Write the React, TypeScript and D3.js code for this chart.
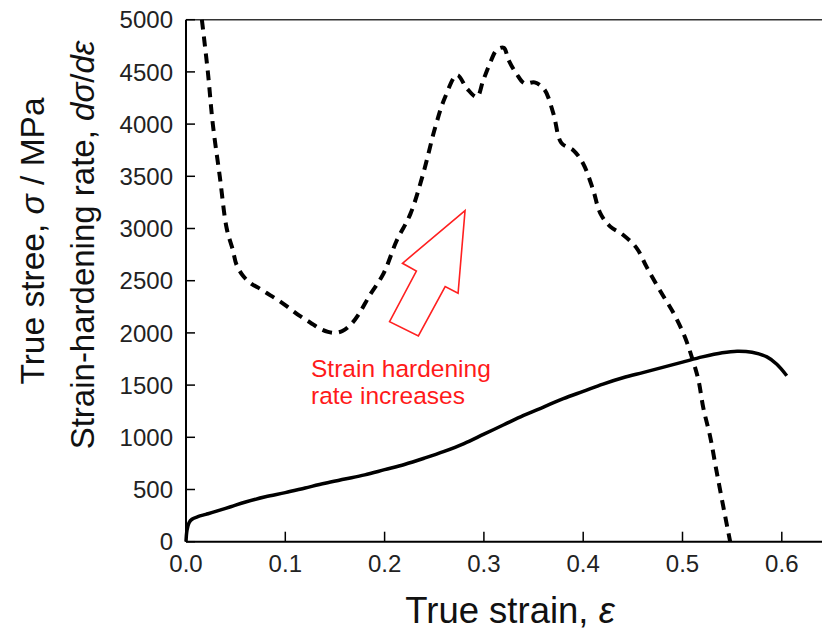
import React from "react";
import * as d3 from "d3";

// Strain-hardening rate (dashed)
const rateStrain = [0.016,0.022,0.027,0.034,0.041,0.047,0.051,0.058,0.066,0.075,0.085,0.095,0.105,0.115,0.125,0.135,0.143,0.150,0.158,0.166,0.174,0.185,0.199,0.212,0.226,0.239,0.251,0.261,0.273,0.283,0.293,0.299,0.306,0.313,0.320,0.325,0.333,0.341,0.351,0.361,0.370,0.378,0.390,0.400,0.410,0.417,0.427,0.440,0.454,0.464,0.477,0.491,0.502,0.510,0.516,0.521,0.528,0.534,0.541,0.548];
const rateValues = [5000,4500,4000,3500,3000,2800,2650,2540,2470,2420,2360,2300,2230,2160,2100,2040,2010,2000,2020,2080,2180,2360,2570,2880,3140,3530,3970,4260,4470,4340,4260,4410,4580,4710,4730,4610,4480,4390,4400,4330,4100,3820,3750,3620,3370,3150,3020,2940,2810,2630,2410,2190,1970,1750,1550,1280,1000,690,340,0];

// True stress (solid)
const stressStrain = [0,0.001,0.003,0.006,0.012,0.02,0.03,0.045,0.06,0.08,0.1,0.12,0.14,0.16,0.18,0.2,0.22,0.24,0.26,0.28,0.3,0.32,0.34,0.36,0.38,0.4,0.42,0.44,0.46,0.48,0.5,0.52,0.54,0.555,0.57,0.585,0.595,0.605];
const stressValues = [0,110,180,215,240,262,290,335,380,430,470,515,560,600,640,690,740,800,865,940,1030,1120,1210,1290,1370,1440,1510,1570,1620,1670,1720,1770,1810,1825,1815,1770,1700,1590];

const xTicks = [0, 0.1, 0.2, 0.3, 0.4, 0.5, 0.6];
const yTicks = [0, 500, 1000, 1500, 2000, 2500, 3000, 3500, 4000, 4500, 5000];

// Annotation arrow outline (data coords)
const arrowX = [0.281, 0.274, 0.261, 0.234, 0.205, 0.232, 0.218];
const arrowY = [3171, 2379, 2443, 1971, 2108, 2592, 2667];

const FONT = "'Liberation Sans', Arial, sans-serif";

export default function App() {
  const W = 822, H = 632;
  const left = 186, top = 19.7, bottom = 541.7;
  const x = d3.scaleLinear().domain([0, 0.65]).range([left, left + 6.5 * 99.3]);
  const y = d3.scaleLinear().domain([0, 5000]).range([bottom, top]);

  const line = d3.line<[number, number]>()
    .x(d => x(d[0])).y(d => y(d[1]))
    .curve(d3.curveCatmullRom.alpha(0.5));

  const rateData = rateStrain.map((s, i) => [s, rateValues[i]] as [number, number]);
  const stressData = stressStrain.map((s, i) => [s, stressValues[i]] as [number, number]);
  const arrowPts = arrowX.map((s, i) => `${x(s)},${y(arrowY[i])}`).join(" ");

  return (
    <svg width={W} height={H} style={{ position: "absolute", left: 0, top: 0 }} fontFamily={FONT}>
      <rect width={W} height={H} fill="#fff" />
      {/* frame */}
      <line x1={left} x2={W} y1={top} y2={top} stroke="#333" strokeWidth={1.5} />
      <line x1={left} x2={left} y1={top} y2={bottom} stroke="#000" strokeWidth={2} />
      <line x1={left} x2={W} y1={bottom} y2={bottom} stroke="#000" strokeWidth={2} />
      {/* y ticks */}
      {yTicks.map(t => (
        <g key={"y" + t}>
          <line x1={left} x2={left + 9} y1={y(t)} y2={y(t)} stroke="#000" strokeWidth={1.5} />
          <text x={173} y={y(t)} dy="0.36em" textAnchor="end" fontSize={24} fill="#222">{t}</text>
        </g>
      ))}
      {/* x ticks */}
      {xTicks.map(t => (
        <g key={"x" + t}>
          <line x1={x(t)} x2={x(t)} y1={bottom} y2={bottom - 10} stroke="#000" strokeWidth={1.5} />
          <text x={x(t)} y={572} textAnchor="middle" fontSize={24} fill="#222">{t.toFixed(1)}</text>
        </g>
      ))}
      {/* curves */}
      <path d={line(stressData) || ""} fill="none" stroke="#000" strokeWidth={3.5} strokeLinejoin="round" />
      <path d={line(rateData) || ""} fill="none" stroke="#000" strokeWidth={4} strokeDasharray="10,7" />
      {/* annotation */}
      <polygon points={arrowPts} fill="none" stroke="#ff2020" strokeWidth={1.6} />
      <text x={311} y={377} fontSize={24.5} fill="#ff1a1a">Strain hardening</text>
      <text x={311} y={404} fontSize={24.5} fill="#ff1a1a">rate increases</text>
      {/* axis titles */}
      <text x={510} y={623} textAnchor="middle" fontSize={36.5} fill="#111">
        True strain, <tspan fontStyle="italic">ε</tspan>
      </text>
      <text transform="translate(44,241) rotate(-90)" textAnchor="middle" fontSize={33.5} fill="#111">
        True stree, <tspan fontStyle="italic">σ</tspan> / MPa
      </text>
      <text transform="translate(94,245) rotate(-90)" textAnchor="middle" fontSize={33} fill="#111">
        Strain-hardening rate, <tspan fontStyle="italic">dσ</tspan>/<tspan fontStyle="italic">dε</tspan>
      </text>
    </svg>
  );
}
